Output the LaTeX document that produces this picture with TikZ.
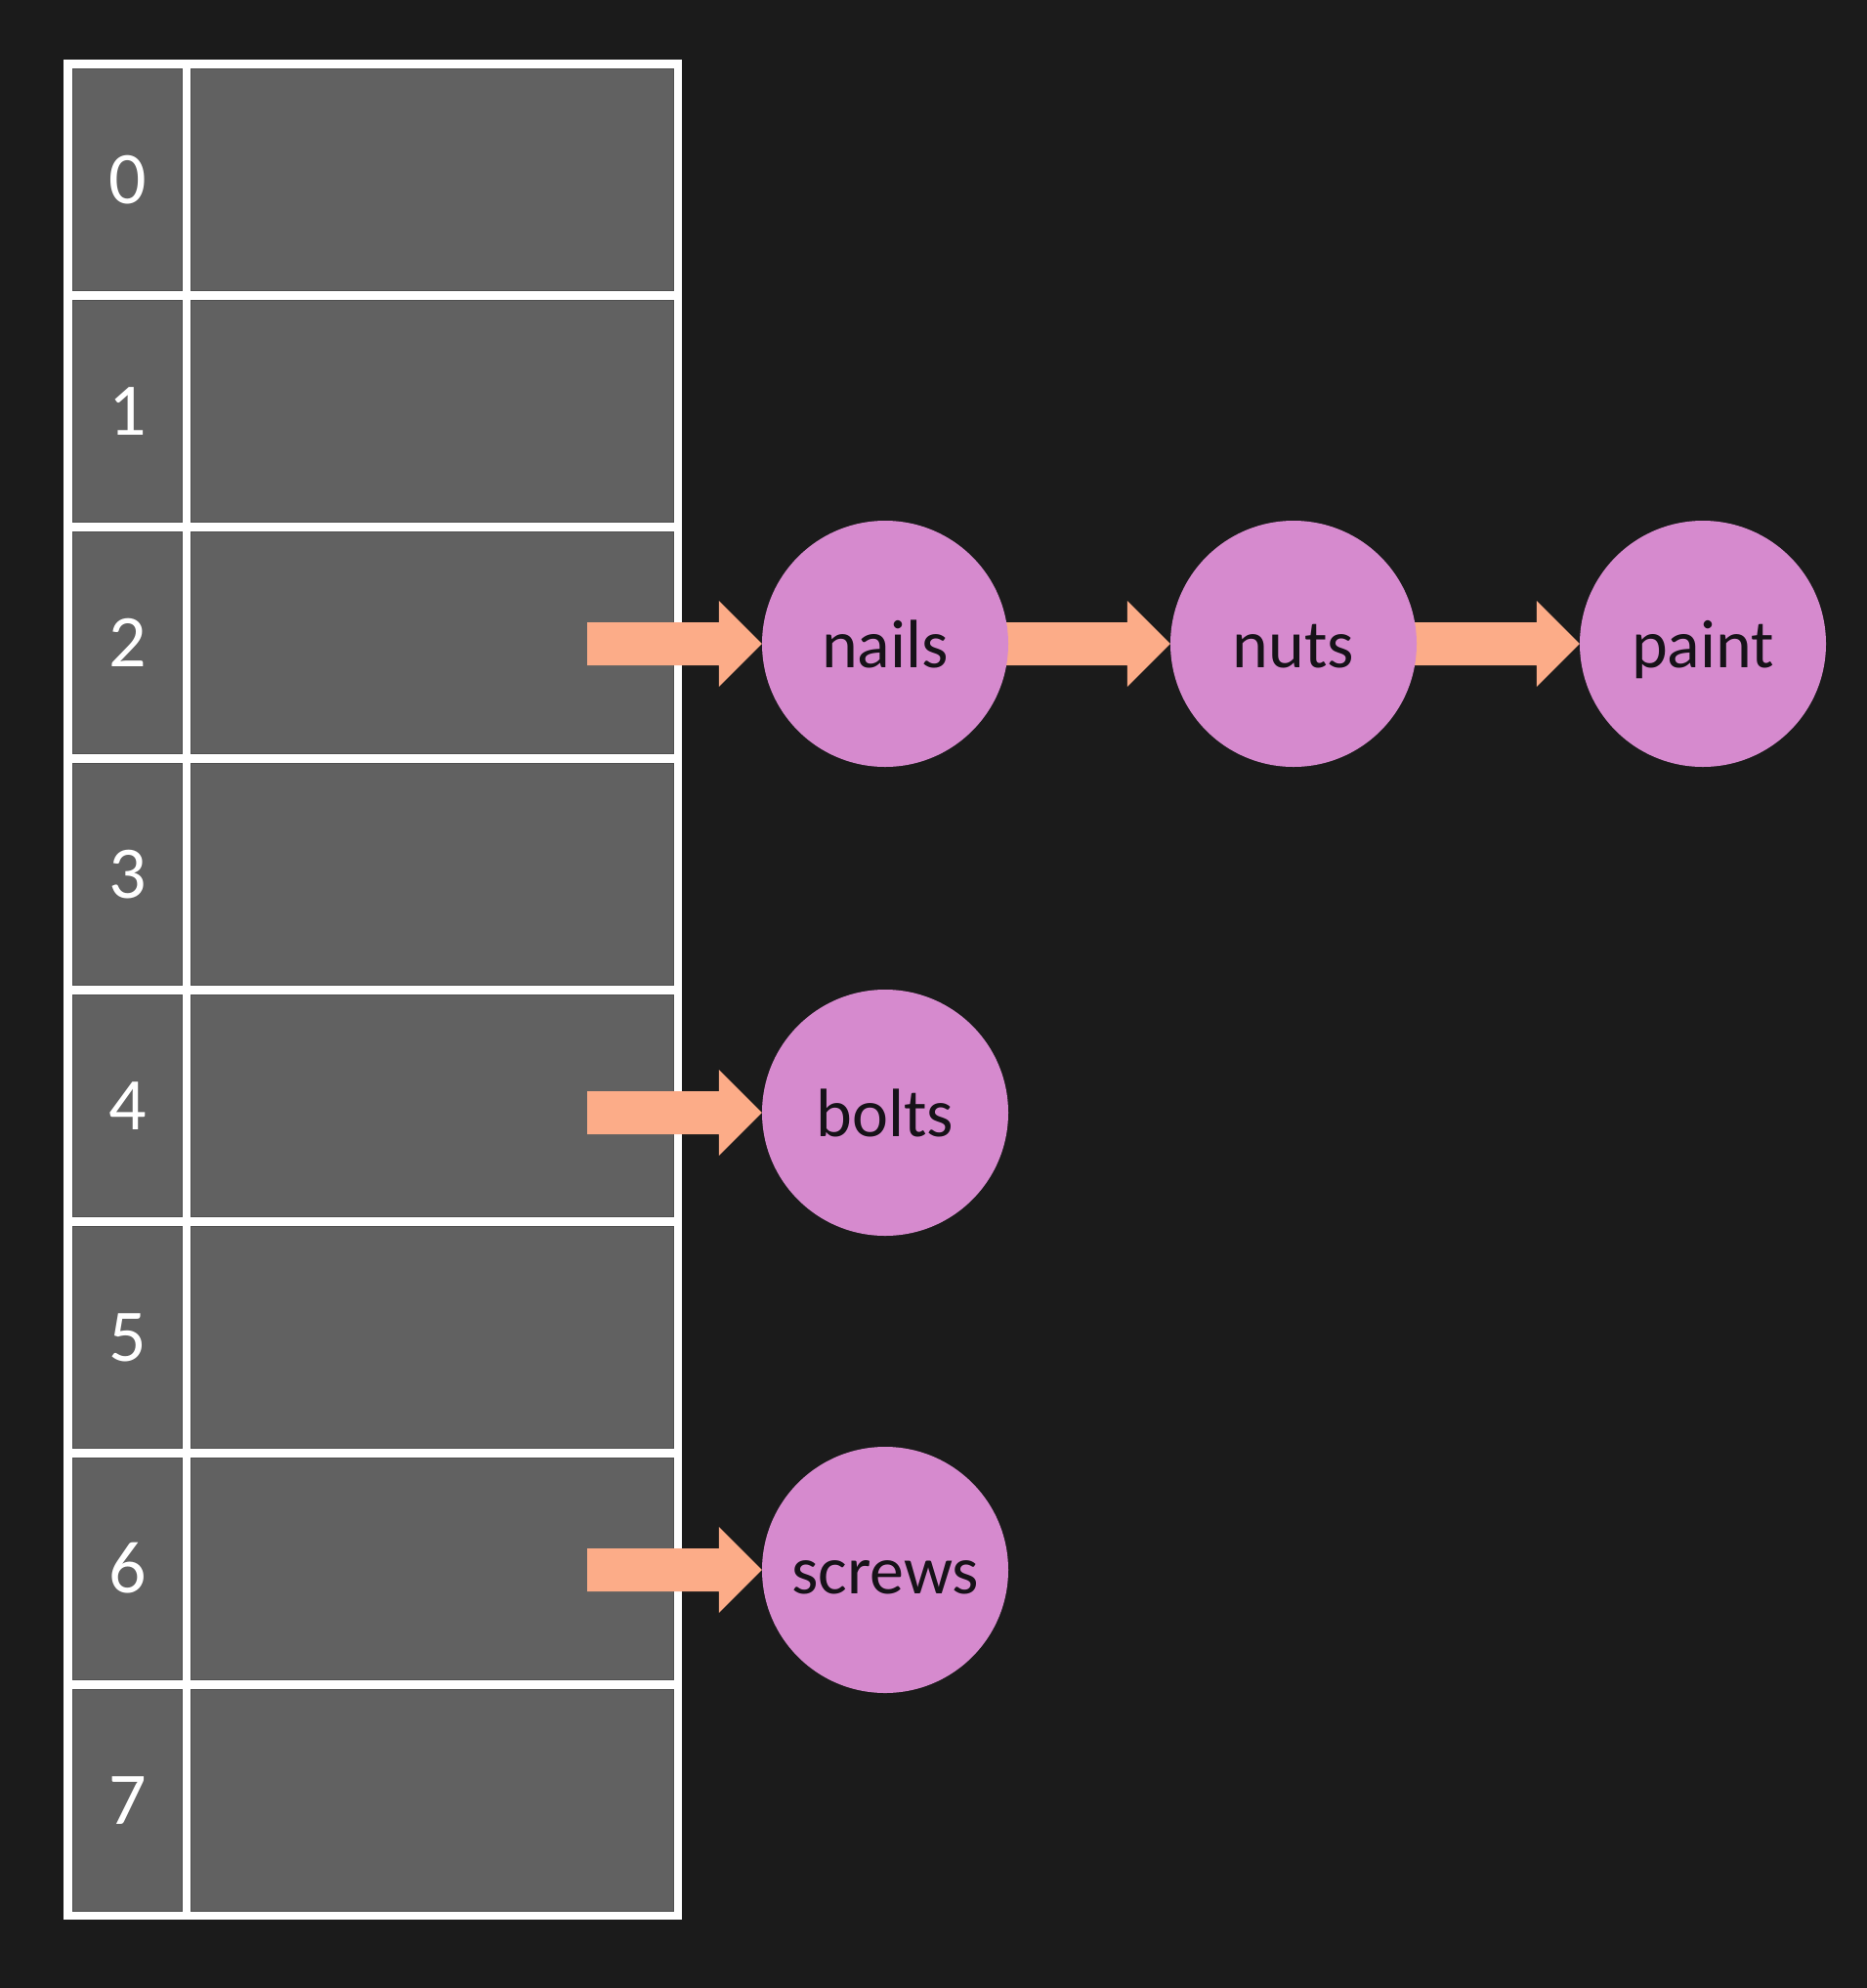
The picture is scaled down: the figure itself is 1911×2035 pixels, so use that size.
\documentclass[tikz,border=0pt]{standalone}
\usepackage{fontspec}
\setmainfont{Carlito}
\usetikzlibrary{calc}
\definecolor{bgdark}{RGB}{27,27,27}
\definecolor{cellgray}{RGB}{97,97,97}
\definecolor{celledge}{RGB}{80,80,80}
\definecolor{nodepink}{RGB}{214,138,206}
\definecolor{peach}{RGB}{252,172,136}
\definecolor{inkdark}{RGB}{22,18,24}
\pgfdeclarelayer{back}
\pgfdeclarelayer{mid}
\pgfsetlayers{back,mid,main}
\newcommand\blockarr[2]{%
  \fill[arrowbody] ($(#1)+(0,-22)$) -- ($(#2)+(-44,-22)$) -- ($(#2)+(-44,-44)$) -- (#2)
    -- ($(#2)+(-44,44)$) -- ($(#2)+(-44,22)$) -- ($(#1)+(0,22)$) -- cycle;}
\begin{document}
\begin{tikzpicture}[x=1pt,y=-1pt,
  idxcell/.style={rectangle, fill=cellgray, draw=celledge, line width=1pt,
    minimum width=112pt, minimum height=227pt, inner sep=0pt, anchor=north west,
    text=white, font=\fontsize{76}{80}\selectfont, text height=48pt, text depth=0pt},
  valcell/.style={rectangle, fill=cellgray, draw=celledge, line width=1pt,
    minimum width=494pt, minimum height=227pt, inner sep=0pt, anchor=north west},
  item/.style={circle, fill=nodepink, minimum size=252pt, inner sep=0pt,
    text=inkdark, font=\fontsize{70}{80}\selectfont, text height=49pt, text depth=0pt},
  arrowbody/.style={fill=peach}]
\useasboundingbox (0,0) rectangle (1911,2035);
\begin{pgfonlayer}{back}
  \fill[bgdark] (0,0) rectangle (1911,2035);
  \fill[white] (65,61) rectangle (698,1965);
  \foreach \i in {0,...,7}{
    \node[idxcell] (i\i) at (74,{70+237*\i}) {\i};
    \node[valcell] (v\i) at (195,{70+237*\i}) {};
  }
\end{pgfonlayer}
\node[item] (nails) at (906,659) {nails};
\node[item] (nuts) at (1324,659) {nuts};
\node[item] (paint) at (1743,659) {paint};
\node[item] (bolts) at (906,1139) {bolts};
\node[item] (screws) at (906,1607) {screws};
\coordinate (s2) at ($(nails.center)+(-305,0)$);
\coordinate (s4) at ($(bolts.center)+(-305,0)$);
\coordinate (s6) at ($(screws.center)+(-305,0)$);
\begin{pgfonlayer}{mid}
  \blockarr{s2}{nails.west}
  \blockarr{s4}{bolts.west}
  \blockarr{s6}{screws.west}
  \blockarr{nails.center}{nuts.west}
  \blockarr{nuts.center}{paint.west}
\end{pgfonlayer}
\end{tikzpicture}
\end{document}
